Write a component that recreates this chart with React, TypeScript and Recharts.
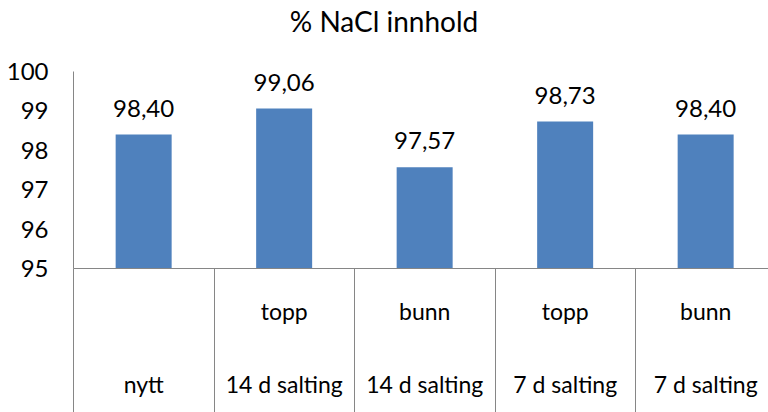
import React from 'react';
import { BarChart, Bar, XAxis, YAxis, LabelList } from 'recharts';

const groups = ['nytt', '14 d salting', '14 d salting', '7 d salting', '7 d salting'];
const positions = ['', 'topp', 'bunn', 'topp', 'bunn'];
const values = [98.4, 99.06, 97.57, 98.73, 98.4];
const yTicks = [95, 96, 97, 98, 99, 100];
const title = '% NaCl innhold';

const data = values.map((v, i) => ({ key: `c${i}`, value: v }));

const FONT = 'Lato, "Open Sans", sans-serif';
const CHART_W = 800;
const CHART_H = 420;
const M_LEFT = 0.5;
const Y_W = 73;
const M_RIGHT = 24;
const PLOT_W = CHART_W - M_LEFT - Y_W - M_RIGHT;
const CAT_W = PLOT_W / values.length;
const AXIS_COLOR = '#868686';

function CatTick(props: any) {
  const { x, y, index } = props;
  const lx = Math.floor(x - CAT_W / 2) + 0.5;
  return (
    <g>
      <line x1={lx} x2={lx} y1={y} y2={y + 200} stroke={AXIS_COLOR} strokeWidth={1} />
      {positions[index] ? (
        <text x={x} y={y + 51.5} textAnchor="middle" fill="#000" fontSize={23} fontFamily={FONT}>
          {positions[index]}
        </text>
      ) : null}
      <text x={x} y={y + 124.5} textAnchor="middle" fill="#000" fontSize={23} fontFamily={FONT}>
        {groups[index]}
      </text>
    </g>
  );
}

const fmt = (v: any) => Number(v).toFixed(2).replace('.', ',');

export default function App() {
  return (
    <div style={{ position: 'absolute', left: 0, top: 0, width: 768, height: 412, overflow: 'hidden', background: '#fff' }}>
      <svg width={768} height={412} style={{ position: 'absolute', left: 0, top: 0 }}>
        <text x={384} y={32} textAnchor="middle" fill="#000" fontSize={28} fontFamily={FONT}>
          {title}
        </text>
      </svg>
      <div style={{ position: 'absolute', left: 0, top: 0 }}>
        <BarChart
          width={CHART_W}
          height={CHART_H}
          data={data}
          margin={{ top: 71.5, right: M_RIGHT, left: M_LEFT, bottom: 0 }}
          barCategoryGap="30%"
        >
          <XAxis
            dataKey="key"
            height={151.5}
            tickLine={false}
            tickSize={0}
            tickMargin={0}
            axisLine={{ stroke: AXIS_COLOR, strokeWidth: 1 }}
            tick={<CatTick />}
            interval={0}
          />
          <YAxis
            width={Y_W}
            domain={[95, 100]}
            ticks={yTicks}
            interval={0}
            tickLine={false}
            tickSize={0}
            tickMargin={25}
            axisLine={{ stroke: AXIS_COLOR, strokeWidth: 1 }}
            tick={{ fill: '#000', fontSize: 24, fontFamily: FONT }}
            allowDataOverflow
          />
          <Bar dataKey="value" fill="#4F81BD" isAnimationActive={false}>
            <LabelList dataKey="value" position="top" offset={18} formatter={fmt} fill="#000" fontSize={24} fontFamily={FONT} />
          </Bar>
        </BarChart>
      </div>
    </div>
  );
}
